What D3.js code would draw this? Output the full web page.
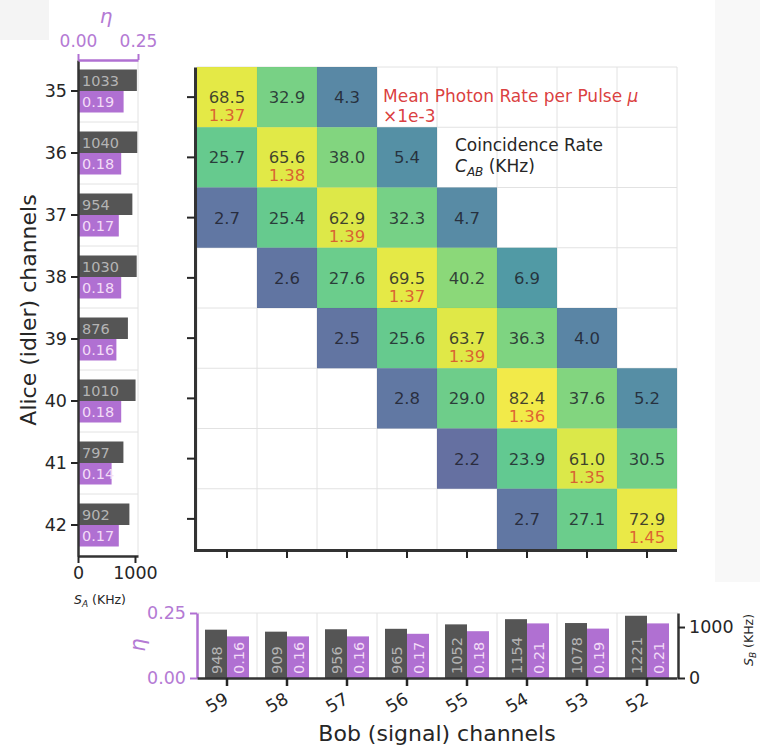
<!DOCTYPE html>
<html>
<head>
<meta charset="utf-8">
<script src="https://cdn.jsdelivr.net/npm/d3@7"></script>
<style>
  body { margin: 0; background: #fff; }
  svg { display: block; font-family: "DejaVu Sans", sans-serif; }
</style>
</head>
<body>
<svg id="chart" width="760" height="745"></svg>
<script>
// Channel labels
const aliceChannels = ["35", "36", "37", "38", "39", "40", "41", "42"];
const bobChannels = ["59", "58", "57", "56", "55", "54", "53", "52"];

// Coincidence rate C_AB (KHz), one row per Alice channel, columns follow bobChannels
const rate35 = [68.5, 32.9, 4.3, null, null, null, null, null];
const rate36 = [25.7, 65.6, 38.0, 5.4, null, null, null, null];
const rate37 = [2.7, 25.4, 62.9, 32.3, 4.7, null, null, null];
const rate38 = [null, 2.6, 27.6, 69.5, 40.2, 6.9, null, null];
const rate39 = [null, null, 2.5, 25.6, 63.7, 36.3, 4.0, null];
const rate40 = [null, null, null, 2.8, 29.0, 82.4, 37.6, 5.2];
const rate41 = [null, null, null, null, 2.2, 23.9, 61.0, 30.5];
const rate42 = [null, null, null, null, null, 2.7, 27.1, 72.9];
const coincidence = [rate35, rate36, rate37, rate38, rate39, rate40, rate41, rate42];

// Mean photon number per pulse (x1e-3) on the matched diagonal pairs
const meanPhoton = [1.37, 1.38, 1.39, 1.37, 1.39, 1.36, 1.35, 1.45];

// Singles rates and heralding efficiencies
const singlesA = [1033, 1040, 954, 1030, 876, 1010, 797, 902];
const etaA = [0.19, 0.18, 0.17, 0.18, 0.16, 0.18, 0.14, 0.17];
const singlesB = [948, 909, 956, 965, 1052, 1154, 1078, 1221];
const etaB = [0.16, 0.16, 0.16, 0.17, 0.18, 0.21, 0.19, 0.21];

// Axis ticks
const singlesTicks = [0, 1000];
const etaTicks = [0, 0.25];

// Colour-map breakpoints (rate in KHz -> position along viridis)
const colorStops = [1, 4.3, 25, 38, 60, 85];
const colorPositions = [0.1, 0.34, 0.69, 0.76, 0.93, 0.98];

const svg = d3.select("#chart");
const PURPLE = "#b070d2";
const PURPLE_TEXT = "#b47ad4";
const GRAY_BAR = "#555555";
const INK = "#262626";
const GRID = "#e2e2e2";

// faint page panels
svg.append("rect").attr("x", 0).attr("y", 0).attr("width", 49).attr("height", 40).attr("fill", "#f4f4f4");
svg.append("rect").attr("x", 715).attr("y", 0).attr("width", 45).attr("height", 582).attr("fill", "#f8f8f8");

// ---------- Heatmap ----------
const x = d3.scaleBand().domain(bobChannels).range([197, 677]);
const y = d3.scaleBand().domain(aliceChannels).range([67, 549]);
const tScale = d3.scaleLog().domain(colorStops).range(colorPositions).clamp(true);
const color = v => d3.interpolateViridis(tScale(v));

const hm = svg.append("g");
// cell grid
bobChannels.concat(["end"]).forEach((c, i) => {
  const xx = i < bobChannels.length ? x(c) : x.range()[1];
  hm.append("line").attr("x1", xx).attr("x2", xx).attr("y1", y.range()[0]).attr("y2", y.range()[1])
    .attr("stroke", GRID).attr("stroke-width", 1);
});
aliceChannels.forEach((a) => {
  hm.append("line").attr("x1", x.range()[0]).attr("x2", x.range()[1]).attr("y1", y(a)).attr("y2", y(a))
    .attr("stroke", GRID).attr("stroke-width", 1);
});

const cells = [];
coincidence.forEach((row, i) => row.forEach((v, j) => {
  if (v !== null) cells.push({ a: aliceChannels[i], b: bobChannels[j], v, diag: i === j, mu: i === j ? meanPhoton[i] : null });
}));

hm.selectAll("rect.cell").data(cells).join("rect")
  .attr("class", "cell")
  .attr("x", d => x(d.b)).attr("y", d => y(d.a))
  .attr("width", x.bandwidth()).attr("height", y.bandwidth())
  .attr("fill", d => color(d.v)).attr("fill-opacity", 0.8);

hm.selectAll("text.val").data(cells).join("text")
  .attr("class", "val")
  .attr("x", d => x(d.b) + x.bandwidth() / 2)
  .attr("y", d => y(d.a) + y.bandwidth() / 2 + 6)
  .attr("text-anchor", "middle").attr("font-size", 16.5)
  .attr("fill", "#1c1c28").attr("fill-opacity", 0.82)
  .text(d => d.v.toFixed(1));

hm.selectAll("text.mu").data(cells.filter(d => d.diag)).join("text")
  .attr("class", "mu")
  .attr("x", d => x(d.b) + x.bandwidth() / 2)
  .attr("y", d => y(d.a) + y.bandwidth() / 2 + 24)
  .attr("text-anchor", "middle").attr("font-size", 16.5)
  .attr("fill", "#d62728").attr("fill-opacity", 0.7)
  .text(d => d.mu.toFixed(2));

// legend text
const lg = svg.append("g").attr("font-size", 17);
lg.append("text").attr("x", 383).attr("y", 102).attr("fill", "#d62728").attr("fill-opacity", 0.9)
  .text("Mean Photon Rate per Pulse ").append("tspan").attr("font-style", "italic").text("μ");
lg.append("text").attr("x", 383).attr("y", 122).attr("fill", "#d62728").attr("fill-opacity", 0.9).text("×1e-3");
lg.append("text").attr("x", 455).attr("y", 151).attr("fill", INK).text("Coincidence Rate");
const cab = lg.append("text").attr("x", 455).attr("y", 172).attr("fill", INK);
cab.append("tspan").attr("font-style", "italic").text("C");
cab.append("tspan").attr("font-style", "italic").attr("font-size", 12).attr("dy", 4).text("AB");
cab.append("tspan").attr("dy", -4).text(" (KHz)");

// heatmap ticks and spines
const hmLeft = svg.append("g").attr("transform", "translate(195,0)")
  .call(d3.axisLeft(y).tickSize(8).tickSizeOuter(0).tickFormat(""));
hmLeft.selectAll(".tick line").attr("stroke", INK).attr("stroke-width", 2);
hmLeft.select(".domain").attr("stroke", "#333").attr("stroke-width", 3);
const hmBottom = svg.append("g").attr("transform", "translate(0,550)")
  .call(d3.axisBottom(x).tickSize(8).tickSizeOuter(0).tickFormat(""));
hmBottom.selectAll(".tick line").attr("stroke", INK).attr("stroke-width", 2);
hmBottom.select(".domain").attr("stroke", "#333").attr("stroke-width", 3).attr("d", "M194,0.5H677");

// ---------- Alice singles panel ----------
const yA = d3.scaleBand().domain(aliceChannels).range([60, 556]);
const xS = d3.scaleLinear().domain([0, 1053]).range([78, 138]);
const xE = d3.scaleLinear().domain([0, 0.25]).range([78, 138]);
const BAR = 21.5;

const pa = svg.append("g");
aliceChannels.forEach((a, i) => {
  if (i > 0) pa.append("line").attr("x1", 78).attr("x2", 138).attr("y1", yA(a)).attr("y2", yA(a))
    .attr("stroke", GRID).attr("stroke-width", 1);
});
pa.append("line").attr("x1", 138).attr("x2", 138).attr("y1", 60).attr("y2", 556).attr("stroke", GRID);

const mid = a => yA(a) + yA.bandwidth() / 2;
pa.selectAll("rect.sa").data(aliceChannels).join("rect")
  .attr("x", xS(0)).attr("y", a => mid(a) - BAR)
  .attr("width", (a, i) => xS(singlesA[i]) - xS(0)).attr("height", BAR)
  .attr("fill", GRAY_BAR);
pa.selectAll("rect.ea").data(aliceChannels).join("rect")
  .attr("x", xE(0)).attr("y", a => mid(a))
  .attr("width", (a, i) => xE(etaA[i]) - xE(0)).attr("height", BAR)
  .attr("fill", PURPLE);
pa.selectAll("text.sa").data(aliceChannels).join("text")
  .attr("x", 82).attr("y", a => mid(a) - BAR / 2 + 5.5)
  .attr("font-size", 14.5).attr("fill", "#b4b4b4")
  .text((a, i) => singlesA[i]);
pa.selectAll("text.ea").data(aliceChannels).join("text")
  .attr("x", 82).attr("y", a => mid(a) + BAR / 2 + 5.5)
  .attr("font-size", 14.5).attr("fill", "#f3dcf7")
  .text((a, i) => etaA[i].toFixed(2));

const aLeft = svg.append("g").attr("transform", "translate(78,0)")
  .call(d3.axisLeft(yA).tickSize(7).tickSizeOuter(0).tickPadding(4));
aLeft.selectAll(".tick line").attr("stroke", INK).attr("stroke-width", 2);
aLeft.selectAll(".tick text").attr("font-size", 17.5).attr("fill", INK).attr("font-family", "DejaVu Sans");
aLeft.select(".domain").attr("stroke", "#333").attr("stroke-width", 2.5);

const aBottom = svg.append("g").attr("transform", "translate(0,556)")
  .call(d3.axisBottom(xS).tickValues(singlesTicks).tickSize(7).tickSizeOuter(0).tickPadding(4).tickFormat(d3.format("d")));
aBottom.selectAll(".tick line").attr("stroke", INK).attr("stroke-width", 2);
aBottom.selectAll(".tick text").attr("font-size", 17.5).attr("fill", INK).attr("font-family", "DejaVu Sans");
aBottom.select(".domain").attr("stroke", "#333").attr("stroke-width", 2.5);

const aTop = svg.append("g").attr("transform", "translate(0,60)")
  .call(d3.axisTop(xE).tickValues(etaTicks).tickSize(6).tickSizeOuter(0).tickPadding(7).tickFormat(d3.format(".2f")));
aTop.selectAll(".tick line").attr("stroke", PURPLE).attr("stroke-width", 2);
aTop.selectAll(".tick text").attr("font-size", 17).attr("fill", PURPLE_TEXT).attr("font-family", "DejaVu Sans");
aTop.select(".domain").attr("stroke", PURPLE).attr("stroke-width", 2.5);

svg.append("text").attr("x", 106).attr("y", 23).attr("text-anchor", "middle")
  .attr("font-size", 20).attr("font-style", "italic").attr("fill", PURPLE_TEXT).text("η");

const saLabel = svg.append("text").attr("x", 100).attr("y", 604).attr("text-anchor", "middle")
  .attr("font-size", 12.5).attr("fill", INK);
saLabel.append("tspan").attr("font-style", "italic").text("S");
saLabel.append("tspan").attr("font-style", "italic").attr("font-size", 9).attr("dy", 3).text("A");
saLabel.append("tspan").attr("dy", -3).text(" (KHz)");

svg.append("text").attr("transform", "translate(36,310) rotate(-90)").attr("text-anchor", "middle")
  .attr("font-size", 22).attr("fill", INK).text("Alice (idler) channels");

// ---------- Bob singles panel ----------
const ySB = d3.scaleLinear().domain([0, 1275]).range([678, 613]);
const yEB = d3.scaleLinear().domain([0, 0.25]).range([678, 613]);
const BW = 22;
const pb = svg.append("g");
pb.append("line").attr("x1", 197).attr("x2", 678).attr("y1", 613).attr("y2", 613).attr("stroke", GRID);
bobChannels.forEach((b, i) => {
  if (i > 0) pb.append("line").attr("x1", x(b)).attr("x2", x(b)).attr("y1", 613).attr("y2", 678)
    .attr("stroke", GRID);
});
const cx = b => x(b) + x.bandwidth() / 2;
pb.selectAll("rect.sb").data(bobChannels).join("rect")
  .attr("x", b => cx(b) - BW).attr("y", (b, i) => ySB(singlesB[i]))
  .attr("width", BW).attr("height", (b, i) => ySB(0) - ySB(singlesB[i]))
  .attr("fill", GRAY_BAR);
pb.selectAll("rect.eb").data(bobChannels).join("rect")
  .attr("x", b => cx(b)).attr("y", (b, i) => yEB(etaB[i]))
  .attr("width", BW).attr("height", (b, i) => yEB(0) - yEB(etaB[i]))
  .attr("fill", PURPLE);
pb.selectAll("text.sb").data(bobChannels).join("text")
  .attr("transform", b => `translate(${cx(b) - BW / 2 + 5.5},674) rotate(-90)`)
  .attr("font-size", 14.5).attr("fill", "#b4b4b4")
  .text((b, i) => singlesB[i]);
pb.selectAll("text.eb").data(bobChannels).join("text")
  .attr("transform", b => `translate(${cx(b) + BW / 2 + 5.5},674) rotate(-90)`)
  .attr("font-size", 14.5).attr("fill", "#f3dcf7")
  .text((b, i) => etaB[i].toFixed(2));

const bLeft = svg.append("g").attr("transform", "translate(197,0)")
  .call(d3.axisLeft(yEB).tickValues(etaTicks).tickSize(7).tickSizeOuter(0).tickPadding(4).tickFormat(d3.format(".2f")));
bLeft.selectAll(".tick line").attr("stroke", PURPLE).attr("stroke-width", 2);
bLeft.selectAll(".tick text").attr("font-size", 17.5).attr("fill", PURPLE_TEXT).attr("font-family", "DejaVu Sans");
bLeft.select(".domain").attr("stroke", PURPLE).attr("stroke-width", 2.5);

const bRight = svg.append("g").attr("transform", "translate(678,0)")
  .call(d3.axisRight(ySB).tickValues(singlesTicks).tickSize(7).tickSizeOuter(0).tickPadding(4).tickFormat(d3.format("d")));
bRight.selectAll(".tick line").attr("stroke", INK).attr("stroke-width", 2);
bRight.selectAll(".tick text").attr("font-size", 17.5).attr("fill", INK).attr("font-family", "DejaVu Sans");
bRight.select(".domain").attr("stroke", "#333").attr("stroke-width", 2.5);

const bBottom = svg.append("g").attr("transform", "translate(0,678)")
  .call(d3.axisBottom(x).tickSize(8).tickSizeOuter(0).tickPadding(4));
bBottom.selectAll(".tick line").attr("stroke", INK).attr("stroke-width", 2.5);
bBottom.select(".domain").attr("stroke", "#333").attr("stroke-width", 2.5);
bBottom.selectAll(".tick text").attr("font-size", 17.5).attr("fill", INK).attr("font-family", "DejaVu Sans")
  .attr("text-anchor", "middle").attr("y", 0).attr("dy", 0)
  .attr("transform", "translate(-7,30) rotate(-30)");

svg.append("text").attr("transform", "translate(145,645) rotate(-90)").attr("text-anchor", "middle")
  .attr("font-size", 21).attr("font-style", "italic").attr("fill", PURPLE_TEXT).text("η");

const sbLabel = svg.append("text").attr("transform", "translate(753,640) rotate(-90)").attr("text-anchor", "middle")
  .attr("font-size", 12.5).attr("fill", INK);
sbLabel.append("tspan").attr("font-style", "italic").text("S");
sbLabel.append("tspan").attr("font-style", "italic").attr("font-size", 9).attr("dy", 3).text("B");
sbLabel.append("tspan").attr("dy", -3).text(" (KHz)");

svg.append("text").attr("x", 437).attr("y", 741).attr("text-anchor", "middle")
  .attr("font-size", 22).attr("fill", INK).text("Bob (signal) channels");
</script>
</body>
</html>
